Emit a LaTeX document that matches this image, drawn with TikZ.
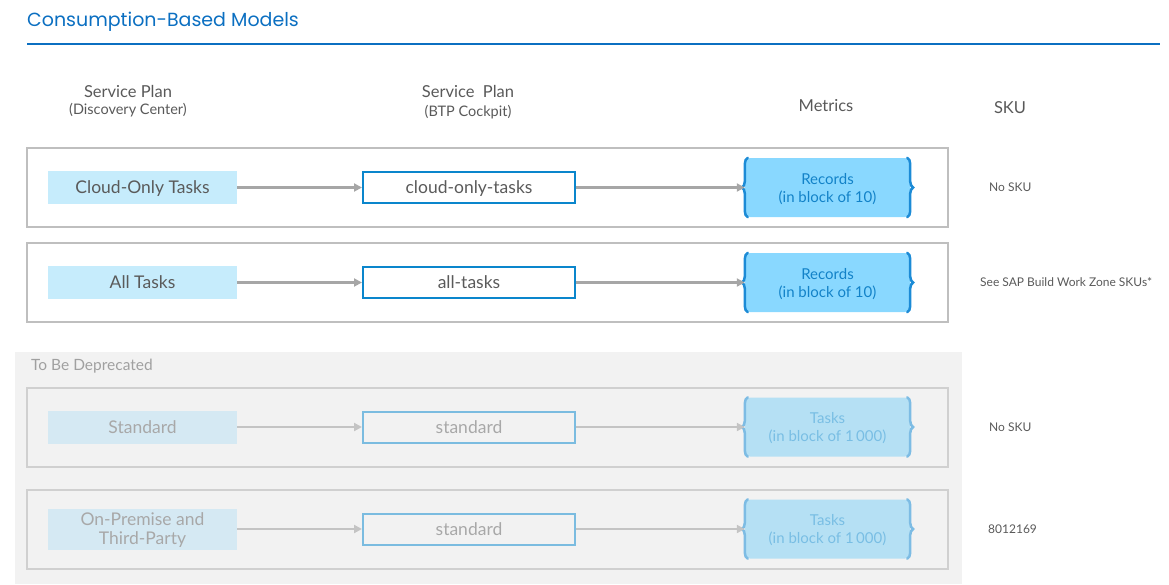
\documentclass[tikz,border=0pt]{standalone}
\usepackage{fontspec}
\setmainfont{Lato}
\newfontfamily\titlefont{Poppins}
\usetikzlibrary{arrows.meta,decorations.pathreplacing}
\definecolor{titleblue}{HTML}{0B6FC1}
\definecolor{headgray}{HTML}{595959}
\definecolor{panelgray}{HTML}{F2F2F2}
\definecolor{oldlabel}{HTML}{A0A0A0}
% colours of the active rows (A) and of the rows to be deprecated (B)
\definecolor{frameA}{HTML}{BFBFBF}   \definecolor{frameB}{HTML}{D0D0D0}
\definecolor{planA}{HTML}{C6ECFC}    \definecolor{planB}{HTML}{D5E9F3}
\definecolor{textA}{HTML}{5A5A5A}    \definecolor{textB}{HTML}{A8A8A8}
\definecolor{cockpitA}{HTML}{0A86CC} \definecolor{cockpitB}{HTML}{7BBCE0}
\definecolor{metricA}{HTML}{89D8FF}  \definecolor{metricB}{HTML}{B5E0F4}
\definecolor{braceA}{HTML}{1C8BD6}   \definecolor{braceB}{HTML}{7DBCE4}
\definecolor{unitA}{HTML}{1282C8}    \definecolor{unitB}{HTML}{79BEE4}
\definecolor{flowA}{HTML}{A6A6A6}    \definecolor{flowB}{HTML}{C4C4C4}
\tikzstyle{head}=[text=headgray, font=\fontsize{16.5}{18}\selectfont, align=center, inner sep=0pt]
\tikzstyle{frame}=[draw=curframe, line width=2pt, minimum width=921pt, minimum height=79pt]
\tikzstyle{plan}=[fill=curplan, text=curtext, font=\fontsize{17.5}{19}\selectfont, align=center, minimum width=189pt, inner sep=0pt, text depth=0pt]
\tikzstyle{cockpit}=[draw=curcockpit, text=curtext, line width=2pt, font=\fontsize{17.5}{19}\selectfont, minimum width=212pt, minimum height=31pt, inner sep=0pt, text depth=0pt]
\tikzstyle{metric}=[fill=curmetric, text=curunit, rounded corners=5pt, font=\fontsize{15}{18}\selectfont, align=center, minimum width=165pt, minimum height=59pt, inner sep=0pt, text depth=0pt]
\tikzstyle{curly}=[draw=curbrace, line width=2.5pt, line cap=round, decorate, decoration={brace, amplitude=6pt}]
\tikzstyle{flow}=[draw=curflow, line width=2.5pt, -{Triangle[length=8pt,width=8pt]}]
\tikzstyle{sku}=[anchor=west, text=headgray, font=\fontsize{12}{14}\selectfont, inner sep=0pt]

\begin{document}
\begin{tikzpicture}[x=1pt, y=-1pt]
    \useasboundingbox (0,0) rectangle (1169,584);

    % title and rule
    \node[anchor=west, inner sep=0pt, text=titleblue, font=\titlefont\fontsize{19}{20}\selectfont] (title) at (27,22) {Consumption-Based Models};
    \coordinate (ruleL) at (27,44);
    \coordinate (ruleR) at (1160,44);
    \draw[titleblue, line width=2pt] (ruleL) -- (ruleR);

    % column heads
    \node[head] (hplan) at (128,101) {Service Plan\\[-1pt]{\fontsize{14.5}{15}\selectfont(Discovery Center)}};
    \node[head] (hcockpit) at (468,102) {Service\ \ Plan\\[1pt]{\fontsize{14.5}{15}\selectfont(BTP Cockpit)}};
    \node[head] (hmetric) at (826,106) {Metrics};
    \node[head] (hsku) at (1010,108) {SKU};

    % grey panel of the plans that go away
    \fill[panelgray] (15,352) rectangle (962,584);
    \node[anchor=west, inner sep=0pt, text=oldlabel, font=\fontsize{15.5}{16}\selectfont] (oldhead) at (31,366) {To Be Deprecated};

    % one row for each plan
    \foreach \y/\tag/\kind/\h/\plan/\cockpit/\metric/\skux/\sku in {
        187.5/cloud/A/33/{Cloud-Only Tasks}/{cloud-only-tasks}/{Records\\(in block of 10)}/989/{No SKU},
        282.5/all/A/33/{All Tasks}/{all-tasks}/{Records\\(in block of 10)}/980/{See SAP Build Work Zone SKUs*},
        427/std/B/33/{Standard}/{standard}/{Tasks\\(in block of 1\,000)}/989/{No SKU},
        529/onprem/B/41/{On-Premise and\\Third-Party}/{standard}/{Tasks\\(in block of 1\,000)}/988/{8012169}} {
        \colorlet{curframe}{frame\kind}
        \colorlet{curplan}{plan\kind}
        \colorlet{curtext}{text\kind}
        \colorlet{curcockpit}{cockpit\kind}
        \colorlet{curmetric}{metric\kind}
        \colorlet{curbrace}{brace\kind}
        \colorlet{curunit}{unit\kind}
        \colorlet{curflow}{flow\kind}
        \node[frame] (frame\tag) at (487.5,\y) {};
        \node[plan, minimum height=\h pt] (plan\tag) at (142.5,\y) {\plan};
        \node[cockpit] (cockpit\tag) at (469,\y) {\cockpit};
        \node[metric] (metric\tag) at (827.5,\y) {\metric};
        \draw[curly] ([xshift=3pt]metric\tag.south west) -- ([xshift=3pt]metric\tag.north west);
        \draw[curly] ([xshift=-3pt]metric\tag.north east) -- ([xshift=-3pt]metric\tag.south east);
        \draw[flow] (plan\tag) -- (cockpit\tag);
        \draw[flow] (cockpit\tag) -- (metric\tag.west);
        \node[sku] (sku\tag) at (\skux,\y) {\sku};
    }
\end{tikzpicture}
\end{document}
